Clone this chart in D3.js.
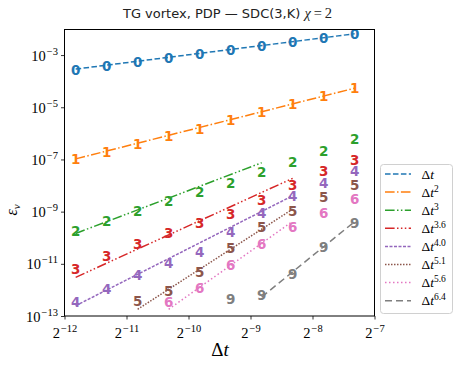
<!DOCTYPE html>
<html><head><meta charset="utf-8">
<script src="https://cdn.jsdelivr.net/npm/d3@7"></script>
<style>body{margin:0;background:#fff}svg{display:block}</style>
</head><body>
<svg id="c" width="456" height="365"></svg>
<script>
// ---- data ----
const dt = [2.766e-4, 3.911e-4, 5.531e-4, 7.822e-4, 1.1062e-3, 1.5644e-3, 2.2124e-3, 3.1288e-3, 4.4248e-3, 6.2576e-3];
const xTicks = [-12, -11, -10, -9, -8, -7];          // powers of 2
const yTicks = [-13, -11, -9, -7, -5, -3];            // powers of 10
const markers = ["0", "1", "2", "3", "4", "5", "6", "9"];
const colors = ["#1f77b4", "#ff7f0e", "#2ca02c", "#d62728", "#9467bd", "#8c564b", "#e377c2", "#7f7f7f"];
const orders = ["1", "2", "3", "3.6", "4.0", "5.1", "5.6", "6.4"];
// error series (first dt index where each series starts)
const startIdx = [0, 0, 0, 0, 0, 2, 3, 5];
const err0 = [2.661e-4, 3.89e-4, 5.53e-4, 7.67e-4, 1.064e-3, 1.549e-3, 2.213e-3, 3.148e-3, 4.365e-3, 6.21e-3];
const err1 = [1.009e-7, 1.972e-7, 3.89e-7, 7.67e-7, 1.50e-6, 3.236e-6, 6.38e-6, 1.291e-5, 2.685e-5, 5.30e-5];
const err2 = [1.807e-10, 4.477e-10, 1.081e-9, 2.547e-9, 5.78e-9, 1.279e-8, 3.206e-8, 8.17e-8, 2.153e-7, 5.89e-7];
const err3 = [6.15e-12, 1.991e-11, 5.74e-11, 1.556e-10, 3.565e-10, 7.89e-10, 2.78e-9, 1.045e-8, 3.69e-8, 9.75e-8];
const err4 = [3.35e-13, 1.081e-12, 3.72e-12, 1.102e-11, 2.76e-11, 1.698e-10, 9.08e-10, 3.963e-9, 1.279e-8, 3.69e-8];
const err5 = [3.855e-13, 9.31e-13, 4.72e-12, 4.14e-11, 2.50e-10, 1.081e-9, 3.72e-9, 1.045e-8];
const err6 = [3.53e-13, 1.151e-12, 8.99e-12, 5.74e-11, 2.636e-10, 9.08e-10, 2.958e-9];
const err9 = [4.365e-13, 6.38e-13, 3.963e-12, 4.285e-11, 3.565e-10];
// reference slope lines: dt index range and error values at both ends
const refFrom = [0, 0, 0, 0, 0, 2, 3, 6];
const refTo   = [9, 9, 6, 7, 7, 7, 7, 9];
const refY0 = [2.9e-4, 1.05e-7, 1.46e-10, 3.04e-12, 2.48e-13, 1.807e-13, 1.807e-13, 5.35e-13];
const refY1 = [6.56e-3, 5.38e-5, 7.48e-8, 1.887e-8, 4.06e-9, 1.245e-9, 4.25e-10, 4.15e-10];
const dashes = ["5.55,2.4", "9.6,2.4,1.5,2.4", "9.6,2.4,1.5,2.4,1.5,2.4", "9.6,2.4,1.5,2.4,1.5,2.4,1.5,2.4",
                "3,1.5", "1.5,1.5", "1.5,2.5", "7,4"];

const errs = [err0, err1, err2, err3, err4, err5, err6, err9];

// ---- layout ----
const L = 64.5, R = 374.5, T = 29.5, B = 316;
const svg = d3.select("#c");
const x = d3.scaleLog().base(2).domain([Math.pow(2, -12), Math.pow(2, -7)]).range([L, R]);
const y = d3.scaleLog().domain([1e-13, Math.pow(10, -2.02)]).range([B, T]);

const serif = "'Liberation Serif', 'DejaVu Serif', serif";

// reference lines
const line = d3.line().x(d => x(d[0])).y(d => y(d[1]));
svg.append("clipPath").attr("id", "pc").append("rect")
  .attr("x", L).attr("y", T).attr("width", R - L).attr("height", B - T);
const plot = svg.append("g").attr("clip-path", "url(#pc)");
for (let k = 0; k < 8; k++) {
  plot.append("path")
    .attr("d", line([[dt[refFrom[k]], refY0[k]], [dt[refTo[k]], refY1[k]]]))
    .attr("fill", "none").attr("stroke", colors[k]).attr("stroke-width", 1.5)
    .attr("stroke-dasharray", dashes[k]);
}
// markers
for (let k = 0; k < 8; k++) {
  const pts = errs[k].map((v, i) => [dt[startIdx[k] + i], v]);
  plot.selectAll(null).data(pts).enter().append("text")
    .attr("x", d => x(d[0])).attr("y", d => y(d[1]))
    .attr("dy", "0.36em").attr("text-anchor", "middle")
    .attr("font-family", "'DejaVu Sans', sans-serif").attr("font-weight", "bold")
    .attr("font-size", 13.5).attr("fill", colors[k])
    .text(markers[k]);
}

// frame
svg.append("rect").attr("x", L).attr("y", T).attr("width", R - L).attr("height", B - T)
  .attr("fill", "none").attr("stroke", "#000").attr("stroke-width", 1);

// axes
const xAxis = d3.axisBottom(x).tickValues(xTicks.map(p => Math.pow(2, p))).tickSize(3.5).tickFormat(() => "");
const gx = svg.append("g").attr("transform", `translate(0,${B})`).call(xAxis);
gx.select(".domain").remove();
gx.selectAll(".tick line").attr("stroke", "#000").attr("stroke-width", 0.8);
gx.selectAll(".tick").each(function (d, i) {
  const t = d3.select(this).append("text").attr("y", 22).attr("text-anchor", "middle")
    .attr("fill", "#000").attr("font-family", serif).attr("font-size", 14.5);
  t.append("tspan").text("2");
  t.append("tspan").attr("dy", -6).attr("dx", 1).attr("font-size", 10.5).text("\u2212" + (-xTicks[i]));
});
const yAxis = d3.axisLeft(y).tickValues(yTicks.map(p => Math.pow(10, p))).tickSize(3.5).tickFormat(() => "");
const gy = svg.append("g").attr("transform", `translate(${L},0)`).call(yAxis);
gy.select(".domain").remove();
gy.selectAll(".tick line").attr("stroke", "#000").attr("stroke-width", 0.8);
gy.selectAll(".tick").each(function (d, i) {
  const t = d3.select(this).append("text").attr("x", -6.5).attr("y", 5).attr("text-anchor", "end")
    .attr("fill", "#000").attr("font-family", serif).attr("font-size", 14.5);
  t.append("tspan").text("10");
  t.append("tspan").attr("dy", -6).attr("dx", 1).attr("font-size", 10.5).text("\u2212" + (-yTicks[i]));
});

// axis labels
const xl = svg.append("text").attr("x", 220).attr("y", 356).attr("text-anchor", "middle")
  .attr("font-family", serif).attr("font-size", 19);
xl.append("tspan").text("\u0394");
xl.append("tspan").attr("font-style", "italic").text("t");
const yl = svg.append("text").attr("transform", "translate(17,210) rotate(-90)").attr("text-anchor", "middle")
  .attr("font-family", serif).attr("font-size", 16);
yl.append("tspan").attr("font-style", "italic").text("\u03b5");
yl.append("tspan").attr("font-style", "italic").attr("font-size", 11).attr("dy", 3).text("v");

// title
const tt = svg.append("text").attr("x", 227.5).attr("y", 18).attr("text-anchor", "middle")
  .attr("font-family", "'DejaVu Sans', sans-serif").attr("font-size", 13).attr("fill", "#222");
tt.append("tspan").text("TG vortex, PDP \u2014 SDC(3,K) ");
tt.append("tspan").attr("font-family", serif).attr("font-style", "italic").attr("font-size", 14.5).text("\u03c7");
tt.append("tspan").attr("font-family", serif).attr("font-size", 14.5).text("\u2009=\u20092");

// legend
const lg = svg.append("g");
lg.append("rect").attr("x", 380.5).attr("y", 164.5).attr("width", 72).attr("height", 149).attr("rx", 3)
  .attr("fill", "#fff").attr("stroke", "#d0d0d0").attr("stroke-width", 1);
for (let k = 0; k < 8; k++) {
  const ry = 174 + k * 18.1;
  lg.append("line").attr("x1", 385).attr("x2", 411).attr("y1", ry).attr("y2", ry)
    .attr("stroke", colors[k]).attr("stroke-width", 1.5).attr("stroke-dasharray", dashes[k]);
  const t = lg.append("text").attr("x", 421.5).attr("y", ry + 4.5)
    .attr("font-family", serif).attr("font-size", 13.5);
  t.append("tspan").text("\u0394");
  t.append("tspan").attr("font-style", "italic").text("t");
  if (orders[k] !== "1") t.append("tspan").attr("dy", -5).attr("font-size", 9.5).text(orders[k]);
}
</script>
</body></html>
